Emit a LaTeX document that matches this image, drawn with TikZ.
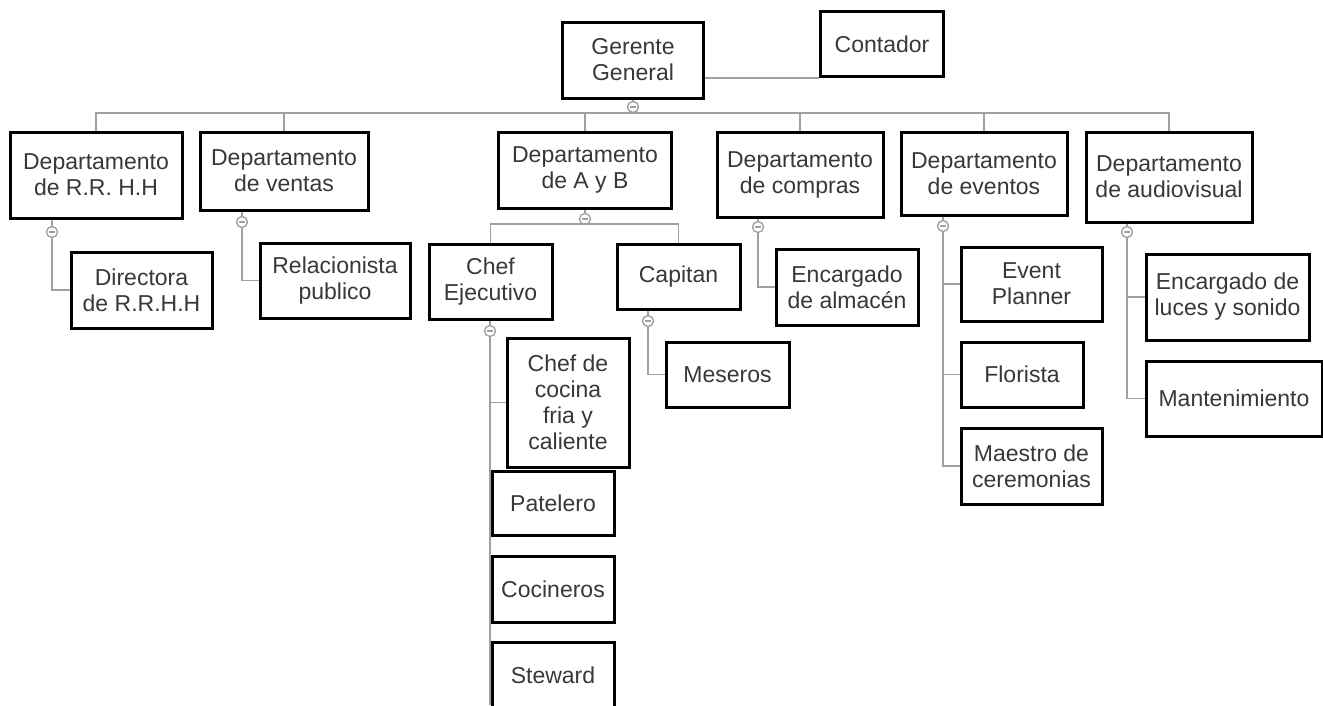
\documentclass[tikz,border=0pt]{standalone}
\usepackage{fontspec}
\setmainfont{Liberation Sans}
\definecolor{linkgray}{HTML}{A0A0A0}
\definecolor{txtgray}{HTML}{383838}
\tikzset{
  box/.style={draw=black,line width=3pt,fill=white,inner sep=0pt,align=center,
    text=txtgray,font=\fontsize{23}{26}\selectfont},
  link/.style={draw=linkgray,line width=1.6pt},
  hub/.style={circle,draw=linkgray,fill=white,line width=1.4pt,minimum size=11pt,inner sep=0pt,
    path picture={\draw[linkgray,line width=1.1pt] ([xshift=-3pt]path picture bounding box.center)
      -- ([xshift=3pt]path picture bounding box.center);}}
}
\begin{document}
\begin{tikzpicture}[x=1pt,y=-1pt]
  \useasboundingbox[fill=white] (0,0) rectangle (1323,705);
  % boxes: name/x/y/width/height/text
  \foreach \n/\x/\y/\w/\h/\t in {
      gg/633/60/141/76/{Gerente\\General}, cont/882/44/123/65/{Contador},
      rrhh/96/175/172/86/{Departamento\\de R.R. H.H}, vent/284/171/168/78/{Departamento\\de ventas},
      ayb/585/170/173/76/{Departamento\\de A y B}, comp/800/174.5/166/85/{Departamento\\de compras},
      even/984/173.5/166/83/{Departamento\\de eventos}, audi/1169/177/166/90/{Departamento\\de audiovisual},
      dir/141.5/290/141/76/{Directora\\de R.R.H.H}, rel/335/280.5/150/75/{Relacionista\\publico},
      chef/490.5/281.5/123/75/{Chef\\Ejecutivo}, cap/678.5/276.5/123/65/{Capitan},
      coc/568/402.5/122/129/{Chef de\\cocina\\fria y\\caliente}, pat/553/503/122/64/{Patelero},
      cin/553/589/122/66/{Cocineros}, stew/553/675/122/66/{Steward},
      mes/727.5/374.5/123/65/{Meseros}, alm/847/287/142/76/{Encargado\\de almacén},
      evp/1031.5/284/141/74/{Event\\Planner}, flo/1022/374.5/122/65/{Florista},
      mae/1031.5/466/141/76/{Maestro de\\ceremonias},
      luc/1227.5/297/163/86/{Encargado de\\luces y sonido}, man/1234/398.5/176/75/{Mantenimiento}}
    \node[box,minimum width=\w,minimum height=\h] (\n) at (\x,\y) {\t};
  % hubs
  \foreach \n/\x/\y in {hg/633/107, hr/52/232, hv/242/222, hab/585/219, hc/490/331,
      hcap/648/321, hcomp/758/227, hev/943/226, hau/1127/232}
    \node[hub] (\n) at (\x,\y) {};
  \coordinate (bus) at (633,113);
  \coordinate (abbus) at (585,224);
  \coordinate (chefend) at (490,705);
  % connectors
  \draw[link] (gg.east |- cont.south) -- (cont.south west);
  \draw[link] (gg.south -| hg) -- (hg) -- (bus);
  \foreach \d in {rrhh,vent,ayb,comp,even,audi}
    \draw[link] (bus) -| (\d.north);
  \foreach \d/\h in {rrhh/hr, vent/hv, ayb/hab, chef/hc, cap/hcap, comp/hcomp, even/hev, audi/hau}
    \draw[link] (\d.south -| \h) -- (\h);
  \draw[link] (hab) -- (abbus);
  \draw[link] (abbus) -| (chef.north);
  \draw[link] (abbus) -| (cap.north);
  \draw[link] (hc) -- (chefend);
  \foreach \h/\c in {hr/dir, hv/rel, hc/coc, hc/pat, hc/cin, hc/stew, hcap/mes, hcomp/alm,
      hev/evp, hev/flo, hev/mae, hau/luc, hau/man}
    \draw[link] (\h) |- (\c.west);
\end{tikzpicture}
\end{document}
